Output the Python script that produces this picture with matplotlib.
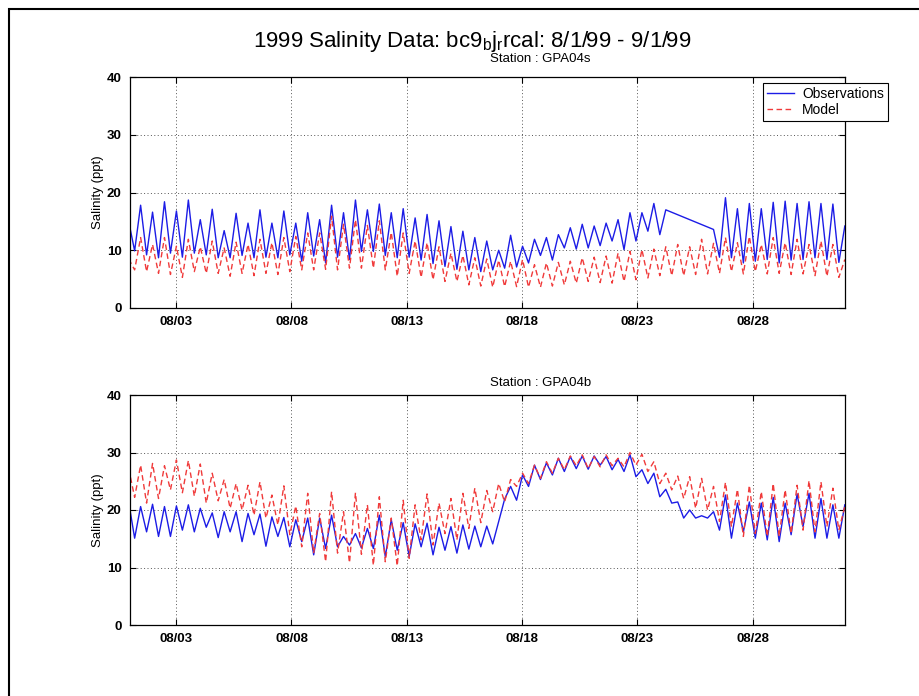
import datetime as dt
import numpy as np
import matplotlib
matplotlib.use('Agg')
from matplotlib import pyplot as plt
from matplotlib.patches import Rectangle
import matplotlib.dates as mdates


"""
Data (read off the plot: one value every half tide, ~6.2 h)
"""

START = dt.datetime(1999, 8, 1)
END = dt.datetime(1999, 9, 1)
T0_DAYS = -0.0575       # first sample, days after 8/1 00:00
STEP_DAYS = 0.25875     # half of a semidiurnal tide
TICK_DAYS = [3, 8, 13, 18, 23, 28]

# surface station GPA04s, None = gap in the record
obs_s = [15.0, 9.9,
         17.8, 9.2, 16.6, 8.7, 18.4, 9.5, 16.8, 8.8, 18.7, 9.5,
         15.3, 9.2, 17.1, 8.7, 13.4, 8.7, 16.4, 9.1, 14.7, 8.7,
         17.0, 8.8, 14.7, 8.7, 16.8, 9.2, 14.7, 8.1, 16.5, 9.0,
         15.3, 7.8, 17.8, 8.8, 16.5, 8.4, 18.7, 9.8, 17.0, 9.8,
         18.0, 9.1, 16.5, 8.7, 17.2, 8.8, 15.6, 8.3, 16.2, 7.7,
         15.1, 7.2, 14.1, 6.7, 13.3, 6.6, 12.2, 6.3, 11.6, 6.6,
         10.0, 6.9, 12.6, 7.1, 10.7, 7.8, 11.9, 9.1, 12.2, 8.3,
         12.7, 10.4, 13.9, 10.2, 14.5, 10.4, 14.2, 10.8, 14.7, 11.6,
         15.3, 10.1, 16.5, 11.6, 16.5, 13.3, 18.1, 12.7, 17.0, None,
         None, None, None, None, None, None, 13.6, 8.8, 19.1, 8.7,
         17.2, 7.8, 18.1, 8.1, 17.2, 8.4, 18.3, 7.8, 18.5, 8.3,
         18.1, 8.4, 18.4, 8.7, 18.1, 8.4, 18.0, 7.9,
         14.2]

mod_s = [8.5, 6.6,
         12.2, 6.3, 11.0, 6.0, 12.2, 5.8, 10.7, 5.3, 11.9, 6.3,
         10.6, 6.0, 11.6, 6.0, 10.4, 5.5, 11.4, 6.0, 11.0, 5.6,
         11.9, 6.0, 11.3, 5.8, 12.2, 6.3, 12.4, 6.6, 13.0, 6.6,
         13.0, 6.7, 15.9, 6.6, 14.5, 6.9, 15.3, 6.9, 14.3, 6.9,
         15.1, 6.6, 13.1, 5.5, 13.0, 6.0, 11.6, 5.3, 11.3, 4.9,
         10.6, 4.6, 9.5, 4.6, 9.1, 4.0, 8.7, 3.8, 8.5, 3.6,
         8.3, 3.7, 8.1, 3.7, 8.4, 3.6, 7.5, 3.6, 7.8, 3.8,
         7.9, 4.0, 8.1, 4.3, 8.7, 4.6, 8.8, 4.4, 9.0, 4.3,
         9.5, 4.6, 9.8, 4.9, 10.1, 5.2, 10.2, 5.6, 10.6, 5.6,
         11.0, 5.6, 10.6, 5.8, 11.9, 5.9, 11.2, 6.0, 12.2, 6.3,
         11.3, 5.9, 12.4, 6.3, 11.0, 5.9, 12.2, 6.0, 11.3, 5.8,
         11.9, 5.9, 11.0, 5.6, 11.6, 5.5, 11.0, 5.3,
         8.4]

# bottom station GPA04b
obs_b = [21.4,
         15.1, 20.6, 16.2, 21.0, 15.4, 20.6, 15.4, 20.7, 16.5, 20.9,
         16.2, 20.3, 17.0, 19.5, 15.2, 19.7, 16.2, 19.7, 14.5, 19.4,
         15.7, 19.3, 13.7, 18.8, 15.4, 18.7, 13.6, 18.3, 14.5, 18.6,
         12.2, 18.6, 13.3, 19.1, 13.6, 15.4, 13.9, 15.9, 13.4, 16.8,
         13.3, 19.1, 11.9, 18.3, 13.0, 17.8, 11.9, 17.6, 13.6, 17.7,
         12.2, 17.0, 13.0, 17.1, 12.5, 17.4, 13.2, 17.2, 13.6, 17.2,
         14.1, None, 21.9, 24.1, 21.7, 26.1, 24.1, 27.8, 25.3, 28.2,
         26.1, 29.0, 26.7, 29.3, 27.2, 29.4, 27.1, 29.4, 27.8, 29.3,
         27.0, 28.8, 26.7, 29.6, 25.8, 27.0, 24.6, 26.4, 22.3, 23.6,
         21.2, 21.4, 18.6, 20.0, 18.6, 19.0, 18.6, 19.7, 16.5, 22.6,
         15.1, 21.2, 16.2, 21.4, 15.1, 21.2, 14.8, 22.2, 14.5, 21.2,
         15.7, 22.8, 17.1, 22.9, 15.1, 22.0, 15.1, 20.9, 15.1, 20.9]

mod_b = [27.2,
         22.2, 27.8, 21.2, 28.1, 22.0, 27.7, 23.5, 28.7, 23.0, 28.6,
         22.4, 28.0, 21.2, 26.4, 21.6, 25.3, 20.3, 24.6, 20.0, 24.3,
         19.1, 24.9, 18.6, 22.6, 17.4, 24.2, 15.7, 20.7, 13.6, 22.9,
         12.5, 19.4, 11.0, 23.2, 12.5, 19.7, 10.8, 23.0, 12.3, 20.9,
         10.4, 22.3, 11.0, 18.6, 10.3, 21.7, 11.6, 20.9, 14.8, 22.8,
         13.9, 21.2, 15.9, 22.0, 14.8, 22.9, 16.8, 23.8, 17.8, 23.4,
         19.7, 24.6, 21.4, 25.3, 24.1, 26.4, 24.6, 27.8, 25.5, 28.4,
         26.4, 29.0, 27.0, 29.4, 27.7, 29.6, 27.2, 29.3, 27.5, 29.6,
         27.7, 29.0, 27.5, 30.0, 27.8, 29.7, 26.7, 28.4, 24.6, 26.4,
         23.5, 25.9, 22.0, 25.8, 20.3, 25.5, 20.0, 24.1, 18.0, 24.8,
         17.1, 23.6, 15.4, 24.3, 15.9, 23.2, 15.4, 24.6, 15.4, 23.5,
         15.9, 24.3, 16.5, 25.1, 16.2, 24.9, 17.1, 23.8, 16.5, 20.6]


"""
Plot
"""

plt.rcParams['font.family'] = ['Liberation Sans', 'DejaVu Sans']
W, H = 920, 696


def times(n):
    return mdates.date2num(START) + T0_DAYS + STEP_DAYS * np.arange(n)


def clean(t, v):
    # drop the gaps so the line joins straight across them
    y = np.array([np.nan if a is None else a for a in v], float)
    m = ~np.isnan(y)
    return t[m], y[m]


def fbox(l, t, r, b):
    return [l / W, 1 - b / H, (r - l) / W, (b - t) / H]


def panel(ax, station, obs, mod, st_base):
    t = times(len(obs))
    ax.plot(*clean(t, obs), color='#1c1ce6', lw=1.0, label='Observations')
    ax.plot(*clean(t, mod), color='#f03a3a', lw=1.0, ls=(0, (4, 2.5)),
            label='Model')
    ax.set_xlim(mdates.date2num(START), mdates.date2num(END))
    ax.set_ylim(0, 40)
    ticks = [mdates.date2num(dt.datetime(1999, 8, d)) for d in TICK_DAYS]
    ax.set_xticks(ticks)
    ax.set_xticklabels(['08/%02d' % d for d in TICK_DAYS],
                       fontweight='bold')
    ax.set_yticks([0, 10, 20, 30, 40])
    ax.set_yticklabels(['0', '10', '20', '30', '40'], fontweight='bold')
    ax.tick_params(direction='in', length=4, width=0.8, top=True,
                   right=True, labelsize=9.5, pad=6)
    ax.grid(True, ls=(0, (1, 2.5)), color='#555555', lw=0.7)
    for s in ax.spines.values():
        s.set_linewidth(0.9)
    ax.set_ylabel('Salinity (ppt)', fontsize=9.5, labelpad=2)
    ax.text(490 / W, 1 - st_base / H, 'Station : ' + station,
            transform=ax.figure.transFigure, ha='left', va='baseline',
            fontsize=9.5)


fig = plt.figure(figsize=(W / 100, H / 100), dpi=100)
ax1 = fig.add_axes(fbox(130, 77, 845, 308))
ax2 = fig.add_axes(fbox(130, 395, 845, 625))
panel(ax1, 'GPA04s', obs_s, mod_s, 62)
panel(ax2, 'GPA04b', obs_b, mod_b, 386)

fig.text(472 / W, 1 - 47 / H,
         r'1999 Salinity Data: bc9$_{\mathregular{b}}$j$_{\mathregular{r}}$'
         'rcal: 8/1/99 - 9/1/99',
         ha='center', va='baseline', fontsize=16)

ax1.legend(loc='upper left', bbox_to_anchor=(763 / W, 1 - 83 / H),
           bbox_transform=fig.transFigure, fontsize=10, frameon=True,
           fancybox=False, edgecolor='black', framealpha=1,
           borderaxespad=0, borderpad=0.3, labelspacing=0.15,
           handlelength=1.9, handletextpad=0.6)
ax1.get_legend().get_frame().set_linewidth(0.8)

# page frame: only its left and top edges fall inside the picture
fig.add_artist(Rectangle((9 / W, -0.05), 1.0, 1.05 - 9 / H,
                         transform=fig.transFigure, fill=False,
                         edgecolor='black', lw=1.5))

fig.savefig('out.png', dpi=100)
